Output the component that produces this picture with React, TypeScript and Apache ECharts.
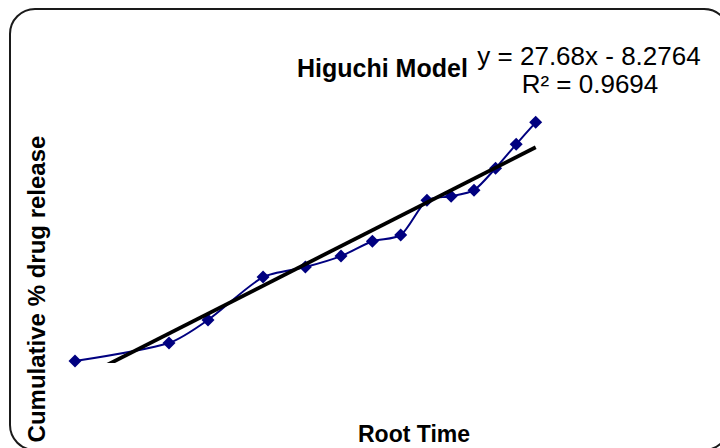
import React, { useEffect, useRef } from "react";
import * as echarts from "echarts";

// Square root of sampling time (√h)
const rootTime = [0, 0.707, 1, 1.414, 1.732, 2, 2.236, 2.449, 2.646, 2.828, 3, 3.162, 3.317, 3.464];
// Cumulative % drug released
const release = [0, 7.4, 16.8, 34.4, 38.5, 43.0, 49.1, 51.6, 65.9, 67.5, 70.0, 79.0, 88.8, 97.8];

// Linear trendline reported on the chart
const slope = 27.68;
const intercept = -8.2764;
const rSquared = 0.9694;

const FONT = "'Liberation Sans', Arial, sans-serif";

export default function App() {
  const ref = useRef<HTMLDivElement>(null);

  useEffect(() => {
    document.body.style.margin = "0";
    if (!ref.current) return;
    const chart = echarts.init(ref.current, null, { renderer: "svg" });

    const xMin = rootTime[0];
    const xMax = rootTime[rootTime.length - 1];
    const trend = [
      [xMin, slope * xMin + intercept],
      [xMax, slope * xMax + intercept],
    ];
    const points = rootTime.map((x, i) => [x, release[i]]);

    chart.setOption({
      animation: false,
      backgroundColor: "#ffffff",
      grid: { left: 75, width: 532, top: 117, height: 244 },
      xAxis: {
        type: "value",
        min: 0,
        max: 4,
        axisLine: { show: false },
        axisTick: { show: false },
        axisLabel: { show: false },
        splitLine: { show: false },
      },
      yAxis: {
        type: "value",
        min: 0,
        max: 100,
        axisLine: { show: false },
        axisTick: { show: false },
        axisLabel: { show: false },
        splitLine: { show: false },
      },
      series: [
        {
          type: "line",
          data: points,
          smooth: 0.25,
          clip: false,
          symbol: "diamond",
          symbolSize: 13,
          lineStyle: { color: "#000080", width: 2 },
          itemStyle: { color: "#000080" },
          z: 2,
        },
        {
          type: "line",
          data: trend,
          clip: true,
          showSymbol: false,
          symbol: "none",
          lineStyle: { color: "#000000", width: 3.8 },
          z: 3,
        },
      ],
      graphic: [
        {
          type: "rect",
          shape: { x: 10, y: 9, width: 719, height: 441, r: 25 },
          style: { fill: "none", stroke: "#1a1a1a", lineWidth: 2 },
          z: 10,
        },
        {
          type: "text",
          x: 297,
          y: 68,
          style: {
            text: "Higuchi Model",
            font: `bold 25px ${FONT}`,
            fill: "#000",
            textAlign: "left",
            textVerticalAlign: "middle",
          },
        },
        {
          type: "text",
          x: 589,
          y: 56,
          style: {
            text: `y = ${slope}x - ${Math.abs(intercept)}`,
            font: `26px ${FONT}`,
            fill: "#000",
            textAlign: "center",
            textVerticalAlign: "middle",
          },
        },
        {
          type: "text",
          x: 590,
          y: 84,
          style: {
            text: `R² = ${rSquared}`,
            font: `26px ${FONT}`,
            fill: "#000",
            textAlign: "center",
            textVerticalAlign: "middle",
          },
        },
        {
          type: "text",
          x: 414,
          y: 434,
          style: {
            text: "Root Time",
            font: `bold 23px ${FONT}`,
            fill: "#000",
            textAlign: "center",
            textVerticalAlign: "middle",
          },
        },
        {
          type: "text",
          x: 36,
          y: 289,
          rotation: Math.PI / 2,
          style: {
            text: "Cumulative % drug release",
            font: `bold 24px ${FONT}`,
            fill: "#000",
            textAlign: "center",
            textVerticalAlign: "middle",
          },
        },
      ],
    });

    return () => chart.dispose();
  }, []);

  return <div ref={ref} style={{ width: 720, height: 448 }} />;
}
